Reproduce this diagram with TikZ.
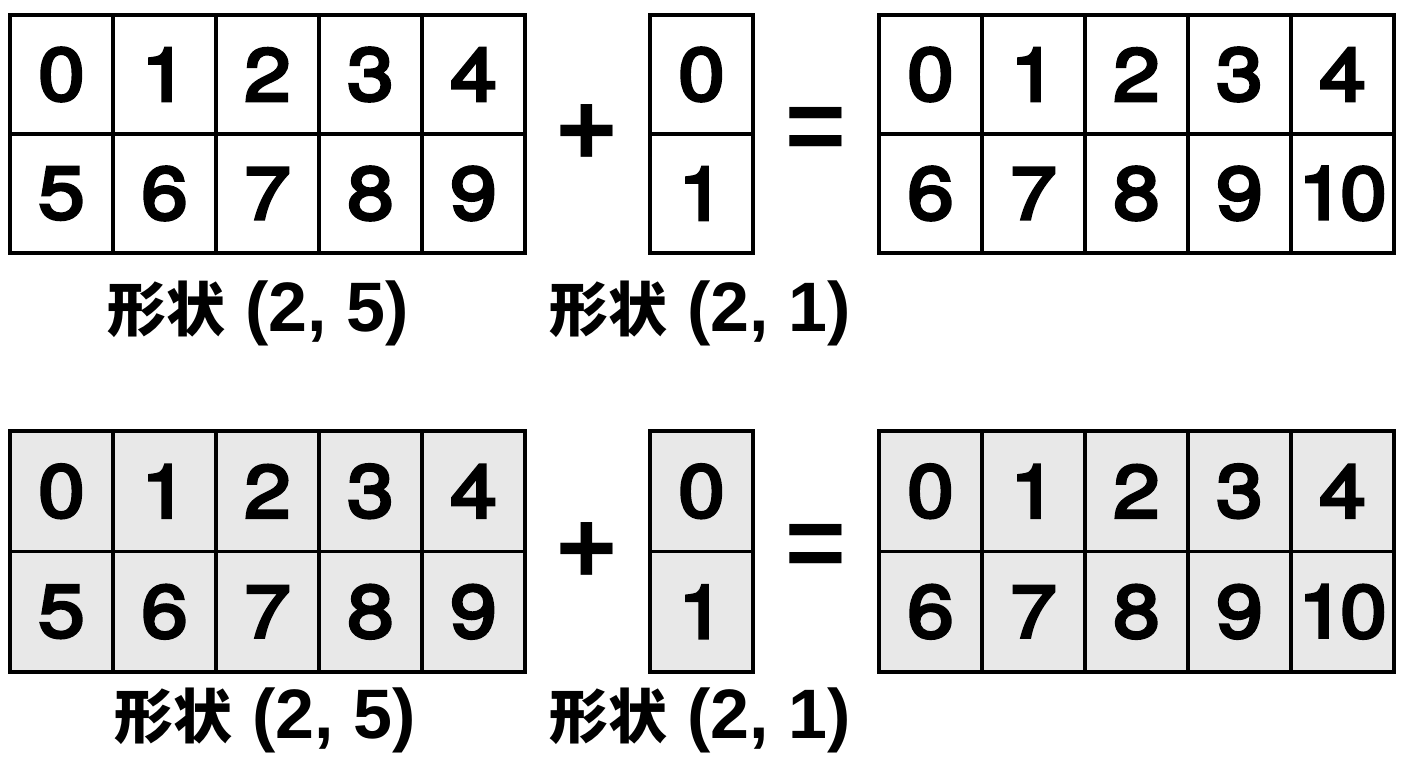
\documentclass[tikz,border=0pt]{standalone}
\usepackage{fontspec}
\setmainfont{Liberation Sans}
\newfontfamily\cjk{Noto Sans CJK JP}
\newfontfamily\digfont{TeX Gyre Heros}[FakeStretch=1.13, LetterSpace=-6, FakeBold=4.2]
\definecolor{cellgray}{HTML}{E8E8E8}
\newcommand\shapelbl[1]{{\fontsize{59}{60}\cjk\bfseries 形状}\fontsize{70}{70}\selectfont\bfseries\ #1}
\begin{document}
\begin{tikzpicture}[x=1pt,y=-1pt,
  cell/.style={draw=black, line width=3.5pt, minimum width=103pt, inner sep=0pt,
    font=\fontsize{74}{74}\digfont},
  gcell/.style={cell, fill=cellgray},
  opsym/.style={inner sep=0pt, font=\fontsize{104}{104}\selectfont\bfseries},
  lbl/.style={inner sep=0pt}]
\path[use as bounding box, fill=white] (0,0) rectangle (1408,768);
% ---------- top row ----------
\foreach \r in {0,1}{
  \foreach \c in {0,...,4}{
    \pgfmathtruncatemacro\va{\r*5+\c}
    \pgfmathtruncatemacro\vb{\r*6+\c}
    \node[cell, minimum height=119pt] (tA-\r-\c) at ({10+51.5+103*\c},{15+59.5+119*\r}) {\va};
    \node[cell, minimum height=119pt] (tC-\r-\c) at ({879+51.5+103*\c},{15+59.5+119*\r}) {\vb};
  }
  \node[cell, minimum height=119pt] (tB-\r) at (701.5,{15+59.5+119*\r}) {\r};
}
\node[opsym] (tplus) at (587,135) {+};
\node[opsym] (teq) at (816,134) {=};
\node[lbl] (tL1) at (258,313) {\shapelbl{(2, 5)}};
\node[lbl] (tL2) at (700,313) {\shapelbl{(2, 1)}};
% ---------- bottom row ----------
\foreach \r in {0,1}{
  \foreach \c in {0,...,4}{
    \pgfmathtruncatemacro\va{\r*5+\c}
    \pgfmathtruncatemacro\vb{\r*6+\c}
    \node[gcell, minimum height=120.5pt] (bA-\r-\c) at ({10+51.5+103*\c},{431+60.25+120.5*\r}) {\va};
    \node[gcell, minimum height=120.5pt] (bC-\r-\c) at ({879+51.5+103*\c},{431+60.25+120.5*\r}) {\vb};
  }
  \node[gcell, minimum height=120.5pt] (bB-\r) at (701.5,{431+60.25+120.5*\r}) {\r};
}
\node[opsym] (bplus) at (587,553) {+};
\node[opsym] (beq) at (816,551) {=};
\node[lbl] (bL1) at (265,720) {\shapelbl{(2, 5)}};
\node[lbl] (bL2) at (700,720) {\shapelbl{(2, 1)}};
\end{tikzpicture}
\end{document}
